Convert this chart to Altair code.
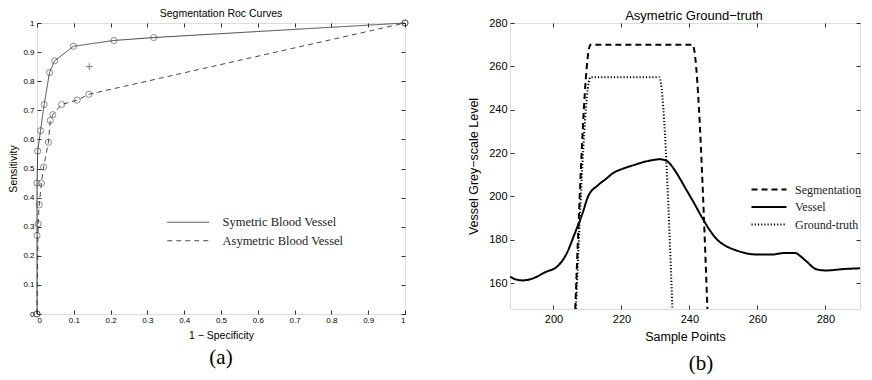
import altair as alt
import pandas as pd

# ---------------- data: panel (a) ROC curves ----------------
roc_names = ["Symetric Blood Vessel", "Asymetric Blood Vessel"]
sym_x = [0.0, 0.0, 0.0, 0.002, 0.0095, 0.0195, 0.034, 0.048, 0.099, 0.209, 0.317, 1.0]
sym_y = [0.0, 0.27, 0.45, 0.56, 0.63, 0.72, 0.83, 0.87, 0.92, 0.94, 0.95, 1.0]
asym_x = [0.0, 0.003, 0.006, 0.012, 0.018, 0.031, 0.036, 0.043, 0.067, 0.109, 0.141, 1.0]
asym_y = [0.0, 0.31, 0.375, 0.45, 0.505, 0.59, 0.665, 0.685, 0.72, 0.735, 0.755, 1.0]
plus_x = [0.142]
plus_y = [0.85]
roc_ticks = [0.0, 0.1, 0.2, 0.3, 0.4, 0.5, 0.6, 0.7, 0.8, 0.9, 1.0]

# ---------------- data: panel (b) profiles ----------------
prof_names = ["Segmentation", "Vessel", "Ground-truth"]
seg_x = [206.4, 210.9, 240.9, 245.3]
seg_y = [148, 270, 270, 148]
ves_x = [187.2, 189.0, 191.0, 193.7, 197.6, 201.3, 203.9, 206.3, 208.4, 210.2, 213.0, 215.4,
         217.8, 220.5, 223.6, 226.0, 228.4, 231.3, 233.3, 234.8, 236.2, 239.1, 241.5, 243.8,
         246.6, 248.5, 250.5, 254.3, 259.1, 264.0, 267.8, 271.2, 272.8, 274.5, 277.4, 280.3,
         285.1, 290.2]
ves_y = [162.9, 161.6, 161.2, 162.0, 165.0, 167.9, 173.7, 183.0, 191.5, 200.0, 205.0, 208.0,
         211.0, 212.8, 214.4, 215.6, 216.5, 217.1, 216.4, 214.0, 210.8, 203.0, 196.5, 190.0,
         183.0, 179.5, 177.3, 174.8, 173.2, 173.1, 173.8, 173.8, 172.2, 169.9, 166.3, 165.8,
         166.4, 166.8]
gt_x = [206.6, 210.9, 231.1, 235.0]
gt_y = [148, 255, 255, 148]
prof_xticks = [200, 220, 240, 260, 280]
prof_yticks = [160, 180, 200, 220, 240, 260, 280]

captions = ["(a)", "(b)"]

# ---------------- tables ----------------
roc_rows = []
for name, xs, ys in [(roc_names[0], sym_x, sym_y), (roc_names[1], asym_x, asym_y)]:
    for i, (a, b) in enumerate(zip(xs, ys)):
        roc_rows.append({"fpr": a, "tpr": b, "curve": name, "i": i})
roc = pd.DataFrame(roc_rows)
plus = pd.DataFrame({"fpr": plus_x, "tpr": plus_y})

prof_rows = []
for name, xs, ys in [(prof_names[0], seg_x, seg_y), (prof_names[1], ves_x, ves_y),
                     (prof_names[2], gt_x, gt_y)]:
    for i, (a, b) in enumerate(zip(xs, ys)):
        prof_rows.append({"pt": a, "lvl": b, "series": name, "i": i})
prof = pd.DataFrame(prof_rows)

SANS = "Liberation Sans"
SERIF = "Liberation Serif"
DASH_SYMBOL = "M-6,0L6,0"


def ax(orient, values, title=None, labels=True, fs=8, fmt=None, lpad=3, tpad=4, tfs=10.5):
    kw = dict(orient=orient, values=values, domain=False, grid=False, tickSize=4, offset=-4,
              tickColor="black", tickWidth=0.8, labels=labels, labelFont=SANS,
              labelFontSize=fs, labelColor="black", labelPadding=lpad,
              titleFont=SANS, titleFontSize=tfs, titleFontWeight="normal",
              titleColor="black", titlePadding=tpad, title=title)
    if fmt:
        kw["format"] = fmt
    if not labels:
        kw["minExtent"] = 0
        kw["maxExtent"] = 0
    return alt.Axis(**kw)


# ---------------- panel (a) ----------------
LW, LH = 368, 291
xsc = alt.Scale(domain=[0, 1], nice=False)
ysc = alt.Scale(domain=[0, 1], nice=False)

roc_lines = alt.Chart(roc).mark_line(color="#333333", strokeWidth=0.9).encode(
    x=alt.X("fpr:Q", scale=xsc, axis=ax("bottom", roc_ticks, "1 − Specificity", fmt=".1~f", lpad=2, tpad=6)),
    y=alt.Y("tpr:Q", scale=ysc, axis=ax("left", roc_ticks, "Sensitivity", fmt=".1~f", lpad=3, tpad=4)),
    strokeDash=alt.StrokeDash(
        "curve:N",
        scale=alt.Scale(domain=roc_names, range=[[1, 0], [5, 4]]),
        legend=alt.Legend(orient="none", legendX=145, legendY=193, title=None, padding=0,
                          symbolType=DASH_SYMBOL, symbolSize=49, symbolStrokeWidth=0.9,
                          symbolStrokeColor="#333333", labelFont=SERIF, labelFontSize=12.5,
                          labelColor="#222222", labelOffset=28, rowPadding=5.5),
    ),
    order="i:Q",
)

roc_pts = alt.Chart(roc).mark_point(shape="circle", filled=False, size=38, color="#333333",
                                    strokeWidth=0.8).encode(
    x=alt.X("fpr:Q", scale=xsc, axis=ax("top", roc_ticks, labels=False)),
    y=alt.Y("tpr:Q", scale=ysc, axis=ax("right", roc_ticks, labels=False)),
    detail="curve:N",
)

roc_plus = alt.Chart(plus).mark_point(shape="M-1,0L1,0M0,-1L0,1", filled=False, size=45,
                                      color="#333333", strokeWidth=0.9).encode(
    x=alt.X("fpr:Q", scale=xsc, axis=None), y=alt.Y("tpr:Q", scale=ysc, axis=None))

cap_a = alt.Chart(pd.DataFrame({"c": [captions[0]]})).mark_text(
    font=SERIF, fontSize=21, color="black", baseline="middle", align="center").encode(
    text="c:N", x=alt.value(LW / 2), y=alt.value(LH + 44))

left = alt.layer(roc_lines, roc_pts, roc_plus, cap_a).resolve_axis(
    x="independent", y="independent").properties(
    width=LW, height=LH,
    title=alt.TitleParams("Segmentation Roc Curves", font=SANS, fontSize=10.5,
                          fontWeight="normal", color="black", offset=-1.2),
)

# ---------------- panel (b) ----------------
RW, RH = 350, 286
pxs = alt.Scale(domain=[187.2, 290.2], nice=False, zero=False)
pys = alt.Scale(domain=[148, 280], nice=False, zero=False)

prof_legend = alt.Legend(orient="none", legendX=253, legendY=160.5, title=None, padding=0,
                         symbolType=DASH_SYMBOL, symbolSize=34,
                         symbolStrokeColor="black", labelFont=SERIF, labelFontSize=12,
                         labelColor="#222222", labelOffset=20, rowPadding=5.5)

prof_lines = alt.Chart(prof).mark_line(color="black", interpolate="monotone", clip=True).encode(
    x=alt.X("pt:Q", scale=pxs, axis=ax("bottom", prof_xticks, "Sample Points", fs=11, lpad=4.5, tpad=5.5, tfs=12.5)),
    y=alt.Y("lvl:Q", scale=pys, axis=ax("left", prof_yticks, "Vessel Grey−scale Level", fs=11, lpad=3, tpad=8, tfs=12.5)),
    strokeDash=alt.StrokeDash(
        "series:N",
        scale=alt.Scale(domain=prof_names, range=[[6, 4], [1, 0], [1.2, 2]]),
        legend=prof_legend,
    ),
    strokeWidth=alt.StrokeWidth(
        "series:N", scale=alt.Scale(domain=prof_names, range=[2, 2, 1.2]),
        legend=prof_legend,
    ),
    order="i:Q",
)

prof_frame = alt.Chart(prof).mark_point(opacity=0, size=1).encode(
    x=alt.X("pt:Q", scale=pxs, axis=ax("top", prof_xticks, labels=False)),
    y=alt.Y("lvl:Q", scale=pys, axis=ax("right", prof_yticks, labels=False)),
)

cap_b = alt.Chart(pd.DataFrame({"c": [captions[1]]})).mark_text(
    font=SERIF, fontSize=21, color="black", baseline="middle", align="center").encode(
    text="c:N", x=alt.value(191), y=alt.value(RH + 54.5))

right = alt.layer(prof_lines, prof_frame, cap_b).resolve_axis(
    x="independent", y="independent").properties(
    width=RW, height=RH,
    title=alt.TitleParams("Asymetric Ground−truth", font=SANS, fontSize=13, dx=9,
                          fontWeight="normal", color="black", offset=-5.7),
)

chart = alt.hconcat(left, right, spacing=56).resolve_scale(
    strokeDash="independent", strokeWidth="independent").resolve_legend(
    strokeDash="independent", strokeWidth="independent").properties(
    padding={"top": 0, "left": 0, "right": 0, "bottom": 0}).configure_view(
    stroke="black", strokeWidth=1).configure(background="white")

chart.save("out.html", embed_options={"renderer": "svg", "actions": False})
